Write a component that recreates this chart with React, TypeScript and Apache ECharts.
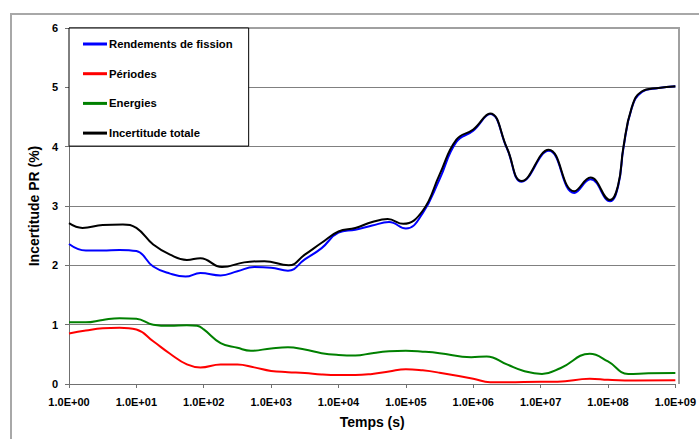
import React, { useEffect, useRef } from "react";
import * as echarts from "echarts";

// x positions are stored as log10(time in s)
const seriesNames = ["Rendements de fission", "Périodes", "Energies", "Incertitude totale"];
const seriesColors = ["#0000FF", "#FF0000", "#008000", "#000000"];

const fissionLog = [0, 0.25, 0.5, 0.75, 1, 1.25, 1.5, 1.73, 1.95, 2.25, 2.5, 2.75, 3, 3.25, 3.5, 3.75, 4, 4.25, 4.5, 4.75, 5, 5.25, 5.5, 5.75, 6, 6.25, 6.5, 6.72, 7.12, 7.5, 7.74, 8.03, 8.15, 8.23, 8.35, 8.5, 8.75, 9];
const fissionVal = [2.36, 2.25, 2.25, 2.26, 2.24, 1.98, 1.86, 1.81, 1.87, 1.83, 1.9, 1.97, 1.96, 1.91, 2.1, 2.29, 2.55, 2.6, 2.67, 2.73, 2.62, 2.88, 3.45, 4.08, 4.27, 4.55, 3.97, 3.41, 3.93, 3.22, 3.45, 3.08, 3.33, 3.98, 4.64, 4.92, 4.99, 5.02];

const periodesLog = [0, 0.25, 0.5, 0.75, 1, 1.25, 1.5, 1.75, 1.95, 2.25, 2.5, 2.75, 3, 3.25, 3.5, 3.75, 4, 4.25, 4.5, 4.75, 5, 5.25, 5.5, 6, 6.25, 6.5, 7, 7.25, 7.73, 8, 8.25, 9];
const periodesVal = [0.85, 0.9, 0.94, 0.95, 0.92, 0.72, 0.51, 0.33, 0.28, 0.33, 0.33, 0.28, 0.22, 0.2, 0.185, 0.16, 0.15, 0.15, 0.17, 0.21, 0.25, 0.23, 0.19, 0.09, 0.03, 0.03, 0.04, 0.04, 0.09, 0.07, 0.06, 0.065];

const energiesLog = [0, 0.25, 0.5, 0.75, 1, 1.25, 1.5, 1.75, 1.9, 2, 2.25, 2.5, 2.7, 3, 3.25, 3.5, 3.75, 4, 4.25, 4.5, 4.75, 5, 5.25, 5.5, 5.97, 6.2, 6.5, 6.75, 7.02, 7.3, 7.73, 8, 8.3, 8.6, 9];
const energiesVal = [1.04, 1.04, 1.08, 1.11, 1.1, 1.0, 0.98, 0.99, 0.98, 0.92, 0.69, 0.61, 0.56, 0.6, 0.62, 0.58, 0.52, 0.49, 0.48, 0.52, 0.55, 0.56, 0.545, 0.52, 0.45, 0.465, 0.33, 0.22, 0.17, 0.27, 0.51, 0.38, 0.17, 0.18, 0.185];

const totalLog = [0, 0.2, 0.5, 0.8, 1, 1.25, 1.5, 1.75, 1.95, 2.27, 2.6, 2.9, 3.26, 3.5, 3.75, 4, 4.25, 4.5, 4.73, 4.96, 5.25, 5.5, 5.75, 6, 6.25, 6.5, 6.72, 7.12, 7.5, 7.74, 8.03, 8.15, 8.23, 8.35, 8.5, 8.75, 9];
const totalVal = [2.71, 2.63, 2.68, 2.69, 2.63, 2.35, 2.18, 2.09, 2.12, 1.97, 2.05, 2.07, 2.0, 2.18, 2.38, 2.57, 2.63, 2.73, 2.78, 2.7, 2.92, 3.53, 4.12, 4.29, 4.56, 3.98, 3.42, 3.95, 3.25, 3.48, 3.1, 3.35, 4.0, 4.65, 4.93, 4.99, 5.02];

const xMinExp = 0;
const xMaxExp = 9;
const yTicks = [0, 1, 2, 3, 4, 5, 6];

const FONT = "'Liberation Sans', Arial, sans-serif";

function toPoints(logs: number[], vals: number[]) {
  return logs.map((l, i) => [Math.pow(10, l), vals[i]]);
}

export default function App() {
  const ref = useRef<HTMLDivElement>(null);
  useEffect(() => {
    if (!ref.current) return;
    const chart = echarts.init(ref.current, undefined, { renderer: "svg" });
    const datasets = [
      toPoints(fissionLog, fissionVal),
      toPoints(periodesLog, periodesVal),
      toPoints(energiesLog, energiesVal),
      toPoints(totalLog, totalVal),
    ];
    const gl = 69, gt = 28, gw = 610, gh = 356;
    chart.setOption({
      animation: false,
      backgroundColor: "#fff",
      grid: { left: gl, top: gt, width: gw, height: gh },
      graphic: [
        {
          type: "polyline",
          shape: { points: [[11, 450], [11, 14], [710, 14]] },
          style: { stroke: "#a8a8a8", lineWidth: 2, fill: null },
          silent: true,
        },
        {
          type: "polyline",
          shape: { points: [[gl, gt], [gl + gw, gt], [gl + gw, gt + gh]] },
          style: { stroke: "#a0a0a0", lineWidth: 2, fill: null },
          silent: true,
          z: 1,
        },
      ],
      legend: {
        orient: "vertical",
        left: gl,
        top: gt,
        backgroundColor: "#fff",
        borderColor: "#000",
        borderWidth: 1,
        padding: [9, 16, 6, 14],
        itemGap: 15.7,
        itemWidth: 24,
        itemHeight: 3,
        icon: "rect",
        textStyle: { fontFamily: FONT, fontWeight: "bold", fontSize: 11.3, lineHeight: 14, color: "#000", padding: [0, 0, 0, -3] },
        data: seriesNames,
        z: 10,
      },
      xAxis: {
        type: "log",
        logBase: 10,
        min: Math.pow(10, xMinExp),
        max: Math.pow(10, xMaxExp),
        splitNumber: xMaxExp - xMinExp,
        name: "Temps (s)",
        nameLocation: "middle",
        nameGap: 31,
        nameTextStyle: { fontFamily: FONT, fontWeight: "bold", fontSize: 14, color: "#000" },
        axisLine: { show: true, lineStyle: { color: "#707070", width: 1 } },
        axisTick: { show: true, length: 4, lineStyle: { color: "#707070" } },
        minorTick: { show: false },
        splitLine: { show: false },
        axisLabel: {
          fontFamily: FONT,
          fontWeight: "bold",
          fontSize: 11,
          color: "#000",
          margin: 12,
          formatter: (v: number) => {
            const e = Math.round(Math.log10(v));
            return "1.0E+" + (e < 10 ? "0" + e : String(e));
          },
        },
      },
      yAxis: {
        type: "value",
        min: yTicks[0],
        max: yTicks[yTicks.length - 1],
        interval: 1,
        name: "Incertitude PR (%)",
        nameLocation: "middle",
        nameGap: 27,
        nameTextStyle: { fontFamily: FONT, fontWeight: "bold", fontSize: 14, color: "#000" },
        axisLine: { show: true, lineStyle: { color: "#707070", width: 1 } },
        axisTick: { show: true, length: 4, lineStyle: { color: "#707070" } },
        splitLine: { show: true, lineStyle: { color: "#808080", width: 1 } },
        axisLabel: { fontFamily: FONT, fontWeight: "bold", fontSize: 11, color: "#000", margin: 11 },
      },
      series: seriesNames.map((name, i) => ({
        name,
        type: "line",
        data: datasets[i],
        smooth: 0.45,
        showSymbol: false,
        symbol: "none",
        lineStyle: { color: seriesColors[i], width: 2 },
        itemStyle: { color: seriesColors[i] },
        z: 2 + i,
      })),
    });
    return () => chart.dispose();
  }, []);
  return (
    <div
      ref={ref}
      style={{ position: "absolute", left: 0, top: 0, width: 699, height: 439, background: "#fff" }}
    />
  );
}
